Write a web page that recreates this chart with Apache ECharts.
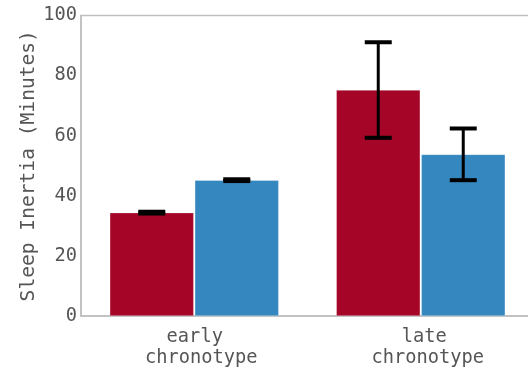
<!DOCTYPE html>
<html>
<head>
<meta charset="utf-8">
<script src="https://cdn.jsdelivr.net/npm/echarts@6/dist/echarts.min.js"></script>
<style>html,body{margin:0;padding:0;background:#fff}#c{width:528px;height:368px}</style>
</head>
<body>
<div id="c"></div>
<script>
const categories = ["early\nchronotype", "late\nchronotype"];
const seriesNames = ["Group 1", "Group 2"];
const redValues = [34.4, 75.2];
const redErrors = [0.3, 15.9];
const blueValues = [45.2, 53.8];
const blueErrors = [0.3, 8.6];
const yTicks = [0, 20, 40, 60, 80, 100];

const BAR_W = 84, GAP = 1;
const FONT = '"DejaVu Sans Mono", monospace';
const TXT = '#555555';

function errSeries(values, errors, offset) {
  return {
    type: 'custom',
    z: 10,
    data: values.map((v, i) => [i, v - errors[i], v + errors[i]]),
    renderItem: function (params, api) {
      const lo = api.coord([api.value(0), api.value(1)]);
      const hi = api.coord([api.value(0), api.value(2)]);
      const x = lo[0] + offset;
      const half = 13.5;
      const st = { stroke: '#000', lineWidth: 3 };
      const cap = { stroke: '#000', lineWidth: 4 };
      return {
        type: 'group',
        children: [
          { type: 'line', shape: { x1: x, y1: lo[1], x2: x, y2: hi[1] }, style: st },
          { type: 'line', shape: { x1: x - half, y1: lo[1], x2: x + half, y2: lo[1] }, style: cap },
          { type: 'line', shape: { x1: x - half, y1: hi[1], x2: x + half, y2: hi[1] }, style: cap }
        ]
      };
    }
  };
}

const chart = echarts.init(document.getElementById('c'), null, { renderer: 'canvas' });
chart.setOption({
  animation: false,
  backgroundColor: '#fff',
  grid: { left: 81, top: 15.5, width: 453, height: 300.5, outerBoundsMode: 'none', containLabel: false,
          show: true, borderColor: '#bfbfbf', borderWidth: 1.5, backgroundColor: 'transparent' },
  xAxis: {
    type: 'category',
    data: categories,
    axisLine: { show: true, lineStyle: { color: '#bfbfbf', width: 1.5 } },
    axisTick: { show: false },
    axisLabel: {
      margin: 11,
      formatter: function (val, idx) {
        const parts = val.split('\n');
        return '{a' + idx + '|' + parts[0] + '}\n{b|' + parts[1] + '}';
      },
      rich: {
        a0: { fontFamily: FONT, fontSize: 18.7, color: TXT, lineHeight: 21, padding: [0, 0, 0, 1] },
        a1: { fontFamily: FONT, fontSize: 18.7, color: TXT, lineHeight: 21, padding: [0, 0, 0, 7] },
        b: { fontFamily: FONT, fontSize: 18.7, color: TXT, lineHeight: 21, padding: [0, 0, 0, 14] }
      }
    }
  },
  yAxis: {
    type: 'value',
    min: 0, max: 100, interval: 20,
    name: 'Sleep Inertia (Minutes)',
    nameLocation: 'middle',
    nameGap: 42.5,
    nameMoveOverlap: false,
    nameTextStyle: { fontFamily: FONT, fontSize: 19.6, color: TXT },
    axisLine: { show: true, lineStyle: { color: '#bfbfbf', width: 1.5 } },
    axisTick: { show: false },
    splitLine: { show: false },
    axisLabel: {
      margin: 4,
      fontFamily: FONT, fontSize: 18.7, color: TXT,
      formatter: function (v) { return yTicks.indexOf(v) >= 0 ? String(v) : ''; }
    }
  },
  series: [
    { name: seriesNames[0], type: 'bar', data: redValues, barWidth: BAR_W, barGap: (GAP / BAR_W * 100) + '%',
      itemStyle: { color: '#a50628', borderColor: 'rgba(255,255,255,0.45)', borderWidth: 0.6 } },
    { name: seriesNames[1], type: 'bar', data: blueValues, barWidth: BAR_W,
      itemStyle: { color: '#3588bf', borderColor: 'rgba(255,255,255,0.45)', borderWidth: 0.6 } },
    errSeries(redValues, redErrors, -(BAR_W + GAP) / 2),
    errSeries(blueValues, blueErrors, (BAR_W + GAP) / 2)
  ]
});
</script>
</body>
</html>
